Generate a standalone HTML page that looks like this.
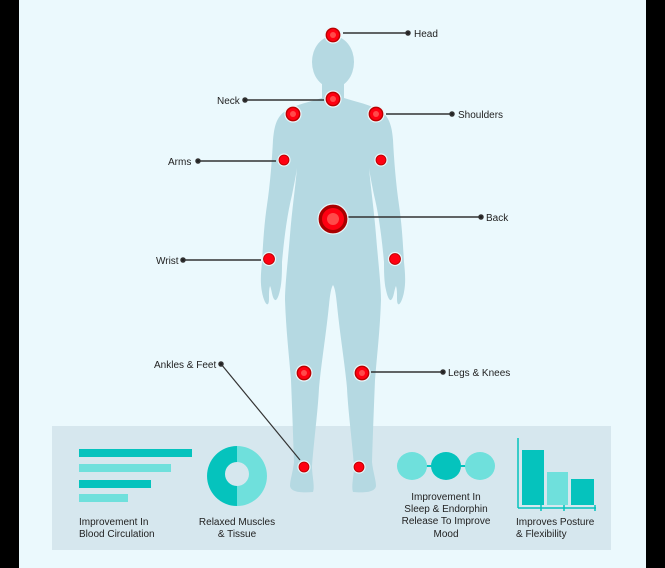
<!DOCTYPE html>
<html><head><meta charset="utf-8"><style>
html,body{margin:0;padding:0;background:#000;}
svg{display:block;}
text{font-family:"Liberation Sans",sans-serif;font-size:10px;fill:#222;}
</style></head><body>
<svg width="665" height="568" viewBox="0 0 665 568" xmlns="http://www.w3.org/2000/svg">
<rect x="0" y="0" width="665" height="568" fill="#000"/>
<rect x="19" y="0" width="627" height="568" fill="#ebf9fd"/>
<rect x="52" y="426" width="559" height="124" fill="#d6e7ee"/>
<defs>
<path id="half" d="M333,80 L322,80 L322,98 C310,102 296,104 284,112 C276,118 274,128 273,140 C272,160 270,185 267,205 C264,225 263,245 262,262 C261,272 260,282 262,292 C263,298 266,306 268,304 C270,302 268,292 270,286 C272,290 272,298 275,300 C277,301 279,295 280,290 C282,282 282,270 282,262 C284,240 287,215 292,195 C294,185 296,175 297,168 C295,190 292,210 290,235 C288,260 285,285 285,300 C286,330 289,355 291,380 C292,405 293,430 294,462 C293,472 290,480 290,486 C291,492 300,493 313,492 C315,486 312,476 312,466 C314,440 318,410 319,388 C321,365 326,335 329,305 C330,295 331,288 333,285 Z"/>
</defs>
<g fill="#b5d9e2">
<use href="#half"/>
<use href="#half" transform="translate(666,0) scale(-1,1)"/>
<ellipse cx="333" cy="62" rx="21" ry="26"/>
<rect x="322" y="70" width="22" height="30"/>
</g>
<g stroke="#333" stroke-width="1.5" fill="#222">
<line x1="343" y1="33" x2="408" y2="33"/><circle cx="408" cy="33" r="2"/>
<line x1="245" y1="100" x2="324" y2="100"/><circle cx="245" cy="100" r="2"/>
<line x1="386" y1="114" x2="452" y2="114"/><circle cx="452" cy="114" r="2"/>
<line x1="198" y1="161" x2="276" y2="161"/><circle cx="198" cy="161" r="2"/>
<line x1="348" y1="217" x2="481" y2="217"/><circle cx="481" cy="217" r="2"/>
<line x1="183" y1="260" x2="261" y2="260"/><circle cx="183" cy="260" r="2"/>
<line x1="371" y1="372" x2="443" y2="372"/><circle cx="443" cy="372" r="2"/>
<line x1="221" y1="364" x2="300" y2="460" stroke-width="1.2"/><circle cx="221" cy="364" r="2"/>
</g>
<g>
<g stroke="#e8f7fa" stroke-width="1.2">
<circle cx="333" cy="35" r="8" fill="#b00"/><circle cx="333" cy="99" r="8" fill="#b00"/>
<circle cx="293" cy="114" r="8" fill="#b00"/><circle cx="376" cy="114" r="8" fill="#b00"/>
<circle cx="284" cy="160" r="6" fill="#b00"/><circle cx="381" cy="160" r="6" fill="#b00"/>
<circle cx="333" cy="219" r="15" fill="#a00"/>
<circle cx="269" cy="259" r="6.5" fill="#b00"/><circle cx="395" cy="259" r="6.5" fill="#b00"/>
<circle cx="304" cy="373" r="8" fill="#b00"/><circle cx="362" cy="373" r="8" fill="#b00"/>
<circle cx="304" cy="467" r="6" fill="#b00"/><circle cx="359" cy="467" r="6" fill="#b00"/>
</g>
<g fill="#f01">
<circle cx="333" cy="35" r="6"/><circle cx="333" cy="99" r="6"/><circle cx="293" cy="114" r="6"/><circle cx="376" cy="114" r="6"/>
<circle cx="284" cy="160" r="4.5"/><circle cx="381" cy="160" r="4.5"/><circle cx="333" cy="219" r="11"/>
<circle cx="269" cy="259" r="5"/><circle cx="395" cy="259" r="5"/><circle cx="304" cy="373" r="6"/><circle cx="362" cy="373" r="6"/>
<circle cx="304" cy="467" r="4.5"/><circle cx="359" cy="467" r="4.5"/>
</g>
<g fill="#ff4a4a">
<circle cx="333" cy="35" r="3"/><circle cx="333" cy="99" r="3"/><circle cx="293" cy="114" r="3"/><circle cx="376" cy="114" r="3"/>
<circle cx="333" cy="219" r="6"/><circle cx="304" cy="373" r="3"/><circle cx="362" cy="373" r="3"/>
</g>
</g>
<text x="414" y="37">Head</text>
<text x="217" y="104">Neck</text>
<text x="458" y="118">Shoulders</text>
<text x="168" y="165">Arms</text>
<text x="486" y="221">Back</text>
<text x="156" y="264">Wrist</text>
<text x="448" y="376">Legs &amp; Knees</text>
<text x="154" y="368">Ankles &amp; Feet</text>
<!-- bars -->
<rect x="79" y="449" width="113" height="8" fill="#05c3bd"/>
<rect x="79" y="464" width="92" height="8" fill="#6fe0dc"/>
<rect x="79" y="480" width="72" height="8" fill="#05c3bd"/>
<rect x="79" y="494" width="49" height="8" fill="#6fe0dc"/>
<text x="79" y="525">Improvement In</text><text x="79" y="537">Blood Circulation</text>
<!-- donut -->
<path d="M237,446 A30,30 0 0 0 237,506 L237,486 A12,12 0 0 1 237,462 Z" fill="#05c3bd"/>
<path d="M237,446 A30,30 0 0 1 237,506 L237,486 A12,12 0 0 0 237,462 Z" fill="#6fe0dc"/>
<text x="237" y="525" text-anchor="middle">Relaxed Muscles</text><text x="237" y="537" text-anchor="middle">&amp; Tissue</text>
<!-- circles -->
<line x1="412" y1="466" x2="480" y2="466" stroke="#05c3bd" stroke-width="2"/>
<ellipse cx="412" cy="466" rx="15" ry="14" fill="#6fe0dc"/>
<ellipse cx="446" cy="466" rx="15" ry="14" fill="#05c3bd"/>
<ellipse cx="480" cy="466" rx="15" ry="14" fill="#6fe0dc"/>
<text x="446" y="500" text-anchor="middle">Improvement In</text>
<text x="446" y="512" text-anchor="middle">Sleep &amp; Endorphin</text>
<text x="446" y="524" text-anchor="middle">Release To Improve</text>
<text x="446" y="537" text-anchor="middle">Mood</text>
<!-- bar chart -->
<g stroke="#05c3bd" stroke-width="1.5">
<line x1="518" y1="438" x2="518" y2="508"/><line x1="518" y1="508" x2="596" y2="508"/>
<line x1="541" y1="505" x2="541" y2="511"/><line x1="564" y1="505" x2="564" y2="511"/><line x1="595" y1="505" x2="595" y2="511"/>
</g>
<rect x="522" y="450" width="22" height="55" fill="#05c3bd"/>
<rect x="547" y="472" width="21" height="33" fill="#6fe0dc"/>
<rect x="571" y="479" width="23" height="26" fill="#05c3bd"/>
<text x="516" y="525">Improves Posture</text><text x="516" y="537">&amp; Flexibility</text>
</svg>
</body></html>
